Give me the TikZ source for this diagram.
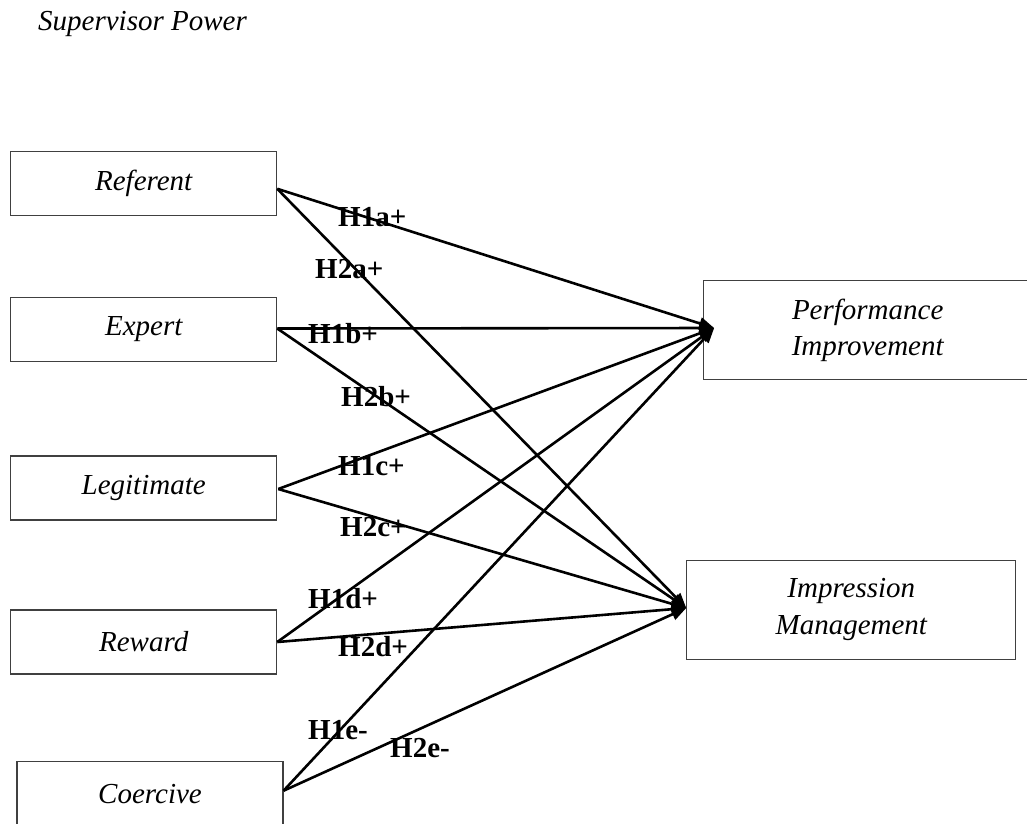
\documentclass[tikz,border=0pt]{standalone}
\usepackage{fontspec}
\setmainfont{Liberation Serif}
\usetikzlibrary{arrows.meta}
\begin{document}
\begin{tikzpicture}[x=1pt,y=-1pt,
  box/.style={draw=black!75,line width=1.1pt,inner sep=0pt,
    font=\fontsize{29}{36.5}\selectfont\itshape,align=center},
  srcbox/.style={box,minimum width=266pt,minimum height=64pt},
  tgtbox/.style={box,minimum width=329pt,minimum height=99pt},
  hyp/.style={anchor=base west,inner sep=0pt,font=\fontsize{29}{34}\selectfont\bfseries},
  link/.style={line width=2.6pt,-{Triangle[length=15pt,width=12pt]}}]
\useasboundingbox (0,0) rectangle (1027,823);
\clip (0,0) rectangle (1027,823);

\node[anchor=base west,inner sep=0pt,font=\fontsize{29}{34}\selectfont\itshape] (title) at (38,30) {Supervisor Power};

\node[srcbox] (ref) at (143.7,183.8) {Referent};
\node[srcbox] (exp) at (143.7,329.5) {Expert};
\node[srcbox] (leg) at (143.7,488) {Legitimate};
\node[srcbox] (rew) at (143.7,642) {Reward};
\node[srcbox] (coe) at (150,793.7) {Coercive};

\node[tgtbox] (pi) at (867.7,330.4) {Performance\\Improvement};
\node[tgtbox] (im) at (851.3,609.7) {Impression\\Management};

\coordinate (refo) at ([yshift=-5pt]ref.east);
\coordinate (expo) at ([yshift=1pt]exp.east);
\coordinate (lego) at ([xshift=1pt,yshift=-1pt]leg.east);
\coordinate (rewo) at (rew.east);
\coordinate (coeo) at ([yshift=3pt]coe.east);
\coordinate (piin) at ([xshift=11.5pt,yshift=2.4pt]pi.west);
\coordinate (imin) at ([yshift=1.7pt]im.west);

\draw[link] (refo) -- (piin);
\draw[link] (refo) -- (imin);
\draw[link] (expo) -- (piin);
\draw[link] (expo) -- (imin);
\draw[link] (lego) -- (piin);
\draw[link] (lego) -- (imin);
\draw[link] (rewo) -- (piin);
\draw[link] (rewo) -- (imin);
\draw[link] (coeo) -- (piin);
\draw[link] (coeo) -- (imin);

\node[hyp] (h1a) at (338,226) {H1a+};
\node[hyp] (h2a) at (315,278) {H2a+};
\node[hyp] (h1b) at (308,343) {H1b+};
\node[hyp] (h2b) at (341,406) {H2b+};
\node[hyp] (h1c) at (338,475) {H1c+};
\node[hyp] (h2c) at (340,536) {H2c+};
\node[hyp] (h1d) at (308,608) {H1d+};
\node[hyp] (h2d) at (338,656) {H2d+};
\node[hyp] (h1e) at (308,739) {H1e-};
\node[hyp] (h2e) at (390,757) {H2e-};
\end{tikzpicture}
\end{document}
